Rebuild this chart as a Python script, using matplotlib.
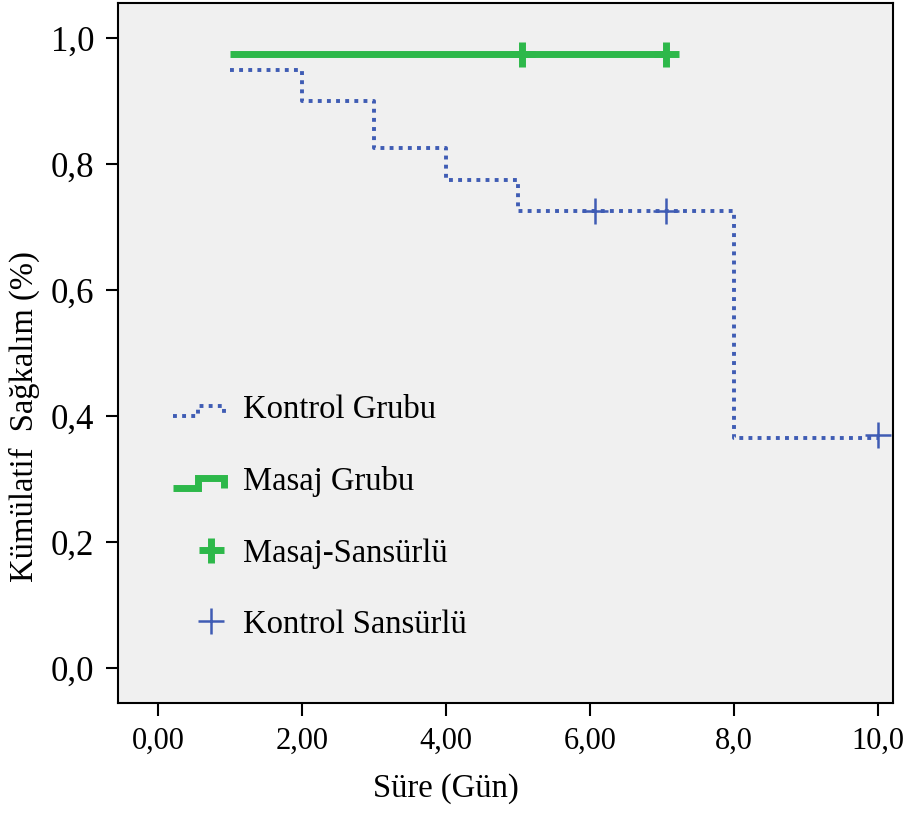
import matplotlib
matplotlib.use('Agg')
import matplotlib.pyplot as plt
from matplotlib.legend_handler import HandlerBase
from matplotlib.lines import Line2D

plt.rcParams['font.family'] = ['Liberation Serif', 'DejaVu Serif']

# Kaplan-Meier steps
kontrol_time = [1, 2, 3, 4, 5, 8, 10]
kontrol_surv = [0.95, 0.90, 0.825, 0.775, 0.725, 0.365, 0.365]
masaj_time = [1, 7.05]
masaj_surv = [0.975, 0.975]

# censored observations
kontrol_cens_time = [6.07, 7.05, 10.0]
kontrol_cens_surv = [0.725, 0.725, 0.37]
masaj_cens_time = [5.05, 7.05]
masaj_cens_surv = [0.975, 0.975]

x_ticks = [0, 2, 4, 6, 8, 10]
x_labels = ['0,00', '2,00', '4,00', '6,00', '8,0', '10,0']
y_ticks = [0.0, 0.2, 0.4, 0.6, 0.8, 1.0]
y_labels = ['0,0', '0,2', '0,4', '0,6', '0,8', '1,0']

BLUE = '#3f5cb4'
GREEN = '#2db84a'
DOTS = (0, (1, 1.35))


class StepHandler(HandlerBase):
    def __init__(self, ls, lw):
        super().__init__()
        self.ls = ls
        self.lw = lw

    def create_artists(self, legend, orig_handle, xdescent, ydescent,
                       width, height, fontsize, trans):
        lo = -ydescent + height * 0.1
        hi = -ydescent + height * 0.55
        x0 = -xdescent
        xs = [x0, x0 + width * 0.5, x0 + width * 0.5, x0 + width, x0 + width]
        ys = [lo, lo, hi, hi, lo]
        ln = Line2D(xs, ys, color=orig_handle.get_color(), linestyle=self.ls,
                    linewidth=self.lw, solid_joinstyle='miter',
                    solid_capstyle='butt', transform=trans)
        return [ln]


class MarkerHandler(HandlerBase):
    def create_artists(self, legend, orig_handle, xdescent, ydescent,
                       width, height, fontsize, trans):
        m = Line2D([-xdescent + width * 0.75], [-ydescent + height * 0.5],
                   marker=orig_handle.get_marker(), linestyle='none',
                   color=orig_handle.get_color(),
                   markersize=orig_handle.get_markersize(),
                   markeredgewidth=orig_handle.get_markeredgewidth(),
                   transform=trans)
        return [m]


fig = plt.figure(figsize=(9.16, 8.14), dpi=100)
ax = fig.add_axes([118 / 916, 1 - 703 / 814, 775 / 916, 700 / 814])
ax.set_facecolor('#f0f0f0')

k_line, = ax.step(kontrol_time, kontrol_surv, where='post', color=BLUE,
                  linewidth=2.8, linestyle=DOTS)
m_line, = ax.step(masaj_time, masaj_surv, where='post', color=GREEN,
                  linewidth=5, solid_capstyle='butt')
m_cens, = ax.plot(masaj_cens_time, masaj_cens_surv, linestyle='none',
                  marker='+', markersize=18, markeredgewidth=5, color=GREEN)
k_cens, = ax.plot(kontrol_cens_time, kontrol_cens_surv, linestyle='none',
                  marker='+', markersize=19, markeredgewidth=1.8, color=BLUE)

ax.set_xlim(-0.556, 10.21)
ax.set_ylim(-0.0556, 1.0556)
ax.set_xticks(x_ticks)
ax.set_xticklabels(x_labels)
ax.set_yticks(y_ticks)
ax.set_yticklabels(y_labels)
ax.tick_params(axis='both', direction='out', length=9, width=1.5, pad=8)
ax.tick_params(axis='x', labelsize=22)
ax.tick_params(axis='y', labelsize=25)
for s in ax.spines.values():
    s.set_linewidth(1.5)

ax.set_xlabel('Süre (Gün)', fontsize=23.5)
ax.set_ylabel('Kümülatif  Sağkalım (%)', fontsize=23.5)
ax.xaxis.set_label_coords(0.423, -0.100)
ax.yaxis.set_label_coords(-0.100, 0.409)

leg = ax.legend([k_line, m_line, m_cens, k_cens],
                ['Kontrol Grubu', 'Masaj Grubu', 'Masaj-Sansürlü', 'Kontrol Sansürlü'],
                handler_map={k_line: StepHandler(DOTS, 2.8),
                             m_line: StepHandler('-', 5),
                             m_cens: MarkerHandler(), k_cens: MarkerHandler()},
                loc='upper left', bbox_to_anchor=(0.071, 0.44),
                frameon=False, fontsize=23.5, handlelength=1.55,
                handletextpad=0.6, labelspacing=1.25,
                borderpad=0, borderaxespad=0)

fig.savefig('out.png', dpi=100)
